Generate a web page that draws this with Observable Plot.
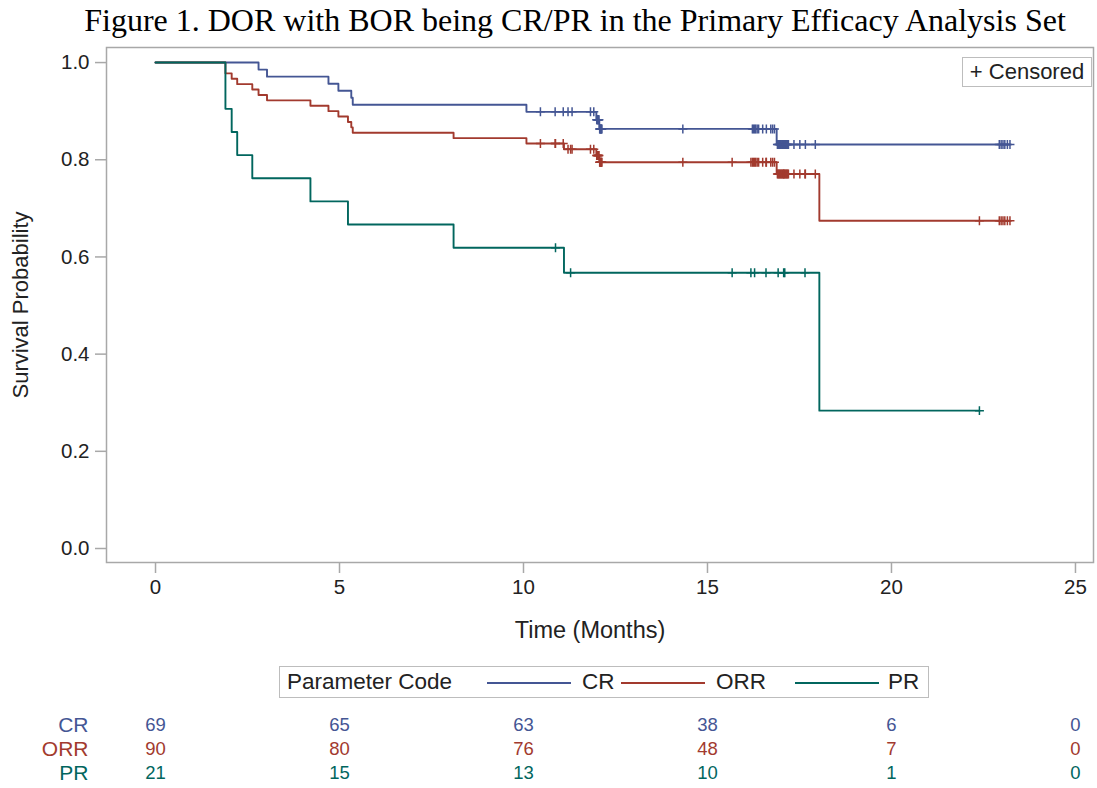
<!DOCTYPE html>
<html>
<head>
<meta charset="utf-8">
<script src="https://cdn.jsdelivr.net/npm/d3@7"></script>
<script src="https://cdn.jsdelivr.net/npm/@observablehq/plot@0.6"></script>
<style>
  body { margin: 0; background: #fff; }
  #root { position: relative; width: 1097px; height: 788px; overflow: hidden;
          font-family: "Liberation Sans", Arial, sans-serif; color: #222; }
  #title { position: absolute; left: 0; top: 1px; width: 1097px; padding-left: 53px; box-sizing: border-box;
           text-align: center; font-family: "Liberation Serif", "Times New Roman", serif; font-size: 32px; line-height: 38px; color: #000; white-space: nowrap; }
  #main { position: absolute; left: 0; top: 42px; }
  #risk { position: absolute; left: 0; top: 710px; }
  #censLegend { position: absolute; left: 962px; top: 57px; width: 128px; height: 28px; border: 1px solid #bdbdbd;
                background: #fff; font-size: 22px; line-height: 28px; text-align: center; color: #222; white-space: nowrap; }
  #legend { position: absolute; left: 279px; top: 666px; width: 648px; height: 30px; border: 1px solid #bdbdbd;
            font-size: 22.5px; color: #222; }
  #legend .item { position: absolute; top: 0; line-height: 30px; white-space: nowrap; }
  #legend .sw { position: absolute; top: 15px; height: 0; border-top: 2px solid; }
</style>
</head>
<body>
<div id="root">
  <div id="title">Figure 1. DOR with BOR being CR/PR in the Primary Efficacy Analysis Set</div>
  <div id="main"></div>
  <div id="censLegend">+ Censored</div>
  <div id="legend"></div>
  <div id="risk"></div>
</div>
<script>
// ---- data ----
const seriesNames = ["CR", "ORR", "PR"];
const seriesColors = ["#445694", "#A23A2E", "#01665E"];

// CR: event (progression) times and censoring times, months
const crEventTimes = [2.8, 3.03, 4.7, 4.97, 5.32, 5.36, 10.08, 11.98, 12.06, 16.88];
const crCensorTimes = [
  10.46, 10.86, 11.08, 11.21, 11.32, 11.82, 11.91,
  11.99, 12.0, 12.01, 12.02, 12.03, 12.04, 12.05, 12.07, 12.08, 12.09, 12.1, 12.11, 12.12, 12.13,
  14.33,
  16.22, 16.25, 16.28, 16.31, 16.35, 16.39, 16.5, 16.6, 16.72, 16.77, 16.82,
  16.9, 16.92, 16.94, 16.96, 16.98, 17.0, 17.02, 17.04, 17.06, 17.08, 17.1, 17.12, 17.14, 17.16, 17.18, 17.2,
  17.35, 17.51, 17.66, 17.93,
  22.93, 22.98, 23.03, 23.08, 23.15, 23.22
];
// PR
const prEventTimes = [1.9, 1.9, 2.07, 2.22, 2.63, 4.21, 5.23, 8.1, 11.1, 18.04];
const prCensorTimes = [10.87, 11.28, 15.67, 16.18, 16.28, 16.59, 16.92, 17.07, 17.1, 17.65, 22.39];
// ORR = CR + PR responders
const orrEventTimes = crEventTimes.concat(prEventTimes);
const orrCensorTimes = crCensorTimes.concat(prCensorTimes);

// number at risk table
const riskTimes = [0, 5, 10, 15, 20, 25];
const crAtRisk = [69, 65, 63, 38, 6, 0];
const orrAtRisk = [90, 80, 76, 48, 7, 0];
const prAtRisk = [21, 15, 13, 10, 1, 0];

const xTicks = [0, 5, 10, 15, 20, 25];
const yTicks = [0, 0.2, 0.4, 0.6, 0.8, 1.0];

// ---- Kaplan-Meier estimate built from the times ----
function km(name, events, censors) {
  const times = Array.from(new Set([...events, ...censors])).sort((a, b) => a - b);
  let n = events.length + censors.length, s = 1;
  const steps = [{series: name, t: 0, s: 1}], marks = [];
  for (const t of times) {
    const d = events.filter(e => e === t).length;
    const c = censors.filter(e => e === t).length;
    if (d > 0) { s *= 1 - d / n; steps.push({series: name, t, s}); }
    if (c > 0) marks.push({series: name, t, s});
    n -= d + c;
  }
  steps.push({series: name, t: times[times.length - 1], s});
  return {steps, marks};
}
const curves = [
  km("CR", crEventTimes, crCensorTimes),
  km("ORR", orrEventTimes, orrCensorTimes),
  km("PR", prEventTimes, prCensorTimes)
];
const stepData = curves.flatMap(c => c.steps);
const censorData = curves.flatMap(c => c.marks);

const gray = "#a8a8a8";
const font = "Liberation Sans, Arial, sans-serif";
const xDomain = [-1.332, 25.49];

const main = Plot.plot({
  width: 1097, height: 610,
  marginTop: 5, marginBottom: 90, marginLeft: 106, marginRight: 4,
  style: {fontFamily: font, background: "transparent", color: "#222", overflow: "visible"},
  x: {domain: xDomain},
  y: {domain: [-0.0288, 1.031]},
  color: {domain: seriesNames, range: seriesColors},
  marks: [
    Plot.frame({stroke: gray, strokeWidth: 1.5}),
    Plot.axisX({ticks: xTicks, tickSize: 11, tickPadding: 6, fontSize: 20.5, stroke: gray, strokeWidth: 1.5,
                fill: "#222", tickFormat: d => String(d), label: null}),
    Plot.axisY({ticks: yTicks, tickSize: 11, tickPadding: 6, fontSize: 20.5, stroke: gray, strokeWidth: 1.5,
                fill: "#222", tickFormat: d3.format(".1f"), label: null}),
    Plot.text(["Time (Months)"], {text: d => d, frameAnchor: "bottom", dx: -10, dy: 75, fontSize: 23.5, fill: "#222"}),
    Plot.text(["Survival Probability"], {text: d => d, frameAnchor: "left", textAnchor: "middle", dx: -86, rotate: -90, fontSize: 22, fill: "#222"}),
    Plot.line(stepData, {x: "t", y: "s", z: "series", stroke: "series", curve: "step-after", strokeWidth: 1.9}),
    Plot.dot(censorData, {x: "t", y: "s", stroke: "series", symbol: "plus", r: 3, strokeWidth: 1.5})
  ]
});
document.getElementById("main").appendChild(main);

// legend below the plot
const legend = document.getElementById("legend");
const legendItems = [
  {text: "Parameter Code", left: 7},
  {sw: 0, left: 207, width: 84}, {text: "CR", left: 302},
  {sw: 1, left: 341, width: 84}, {text: "ORR", left: 436},
  {sw: 2, left: 515, width: 84}, {text: "PR", left: 608}
];
for (const it of legendItems) {
  const el = document.createElement("div");
  if (it.text) { el.className = "item"; el.textContent = it.text; }
  else { el.className = "sw"; el.style.width = it.width + "px"; el.style.borderTopColor = seriesColors[it.sw]; }
  el.style.left = it.left + "px";
  legend.appendChild(el);
}

// number at risk table
const atRisk = [crAtRisk, orrAtRisk, prAtRisk];
const riskData = seriesNames.flatMap((name, i) => riskTimes.map((t, j) => ({series: name, t, n: atRisk[i][j]})));
const risk = Plot.plot({
  width: 1097, height: 78,
  marginTop: 3, marginBottom: 3, marginLeft: 106, marginRight: 4,
  style: {fontFamily: font, background: "transparent", overflow: "visible"},
  x: {domain: xDomain, axis: null},
  y: {type: "band", domain: seriesNames, padding: 0},
  color: {domain: seriesNames, range: seriesColors},
  marks: [
    Plot.axisY({tickSize: 0, tickPadding: 18, fontSize: 21, fill: d => d, label: null}),
    Plot.text(riskData, {x: "t", y: "series", text: d => String(d.n), fill: "series", fontSize: 18.5})
  ]
});
document.getElementById("risk").appendChild(risk);
</script>
</body>
</html>
